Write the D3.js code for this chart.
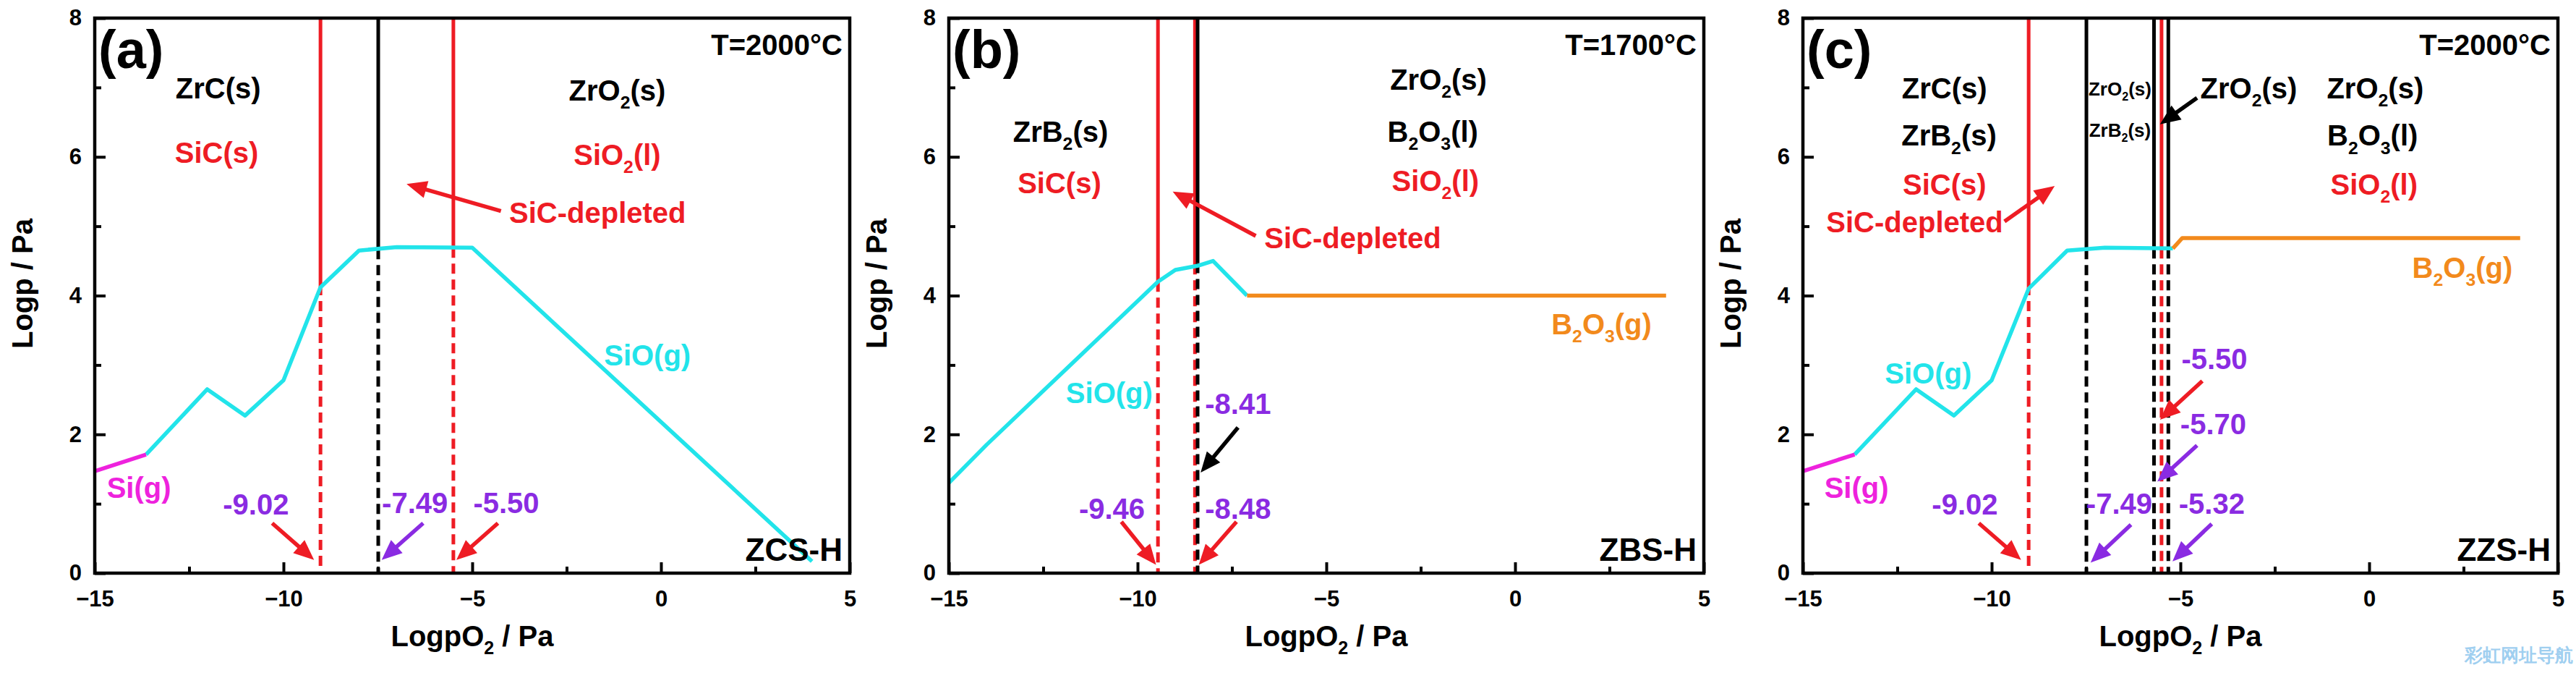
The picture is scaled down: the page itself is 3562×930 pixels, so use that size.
<!DOCTYPE html>
<html><head><meta charset="utf-8">
<script src="https://cdn.jsdelivr.net/npm/d3@7"></script>
<style>
body{margin:0;background:#fff}
svg{display:block}
text{font-family:"Liberation Sans",Arial,sans-serif;font-weight:bold}
</style>
</head><body>
<svg id="chart" width="3562" height="930"></svg>
<script>
// ---------- data ----------
const xDomain = [-15, 5];
const yDomain = [0, 8];
const xTickValues = [-15, -10, -5, 0, 5];
const xMinorTicks = [-12.5, -7.5, -2.5, 2.5];
const yTickValues = [0, 2, 4, 6, 8];
const yMinorTicks = [1, 3, 5, 7];

const panelNames = ["(a)", "(b)", "(c)"];
const panelTemps = ["T=2000°C", "T=1700°C", "T=2000°C"];
const panelSamples = ["ZCS-H", "ZBS-H", "ZZS-H"];

// Series (LogpO2, Logp)
const aSiO = [[-13.64,1.71],[-12.02,2.65],[-11.02,2.27],[-10.0,2.78],[-9.02,4.12],[-8.0,4.65],[-7.0,4.70],[-5.0,4.69],[4.0,0.17]];
const aSi  = [[-15,1.47],[-13.64,1.71]];
const bSiO = [[-15,1.30],[-14,1.85],[-9.46,4.20],[-9.0,4.37],[-8.41,4.43],[-8.0,4.50],[-7.1,4.00]];
const bB2O3 = [[-7.1,4.00],[4.0,4.00]];
const cSiO = [[-13.63,1.71],[-12.0,2.65],[-11.0,2.27],[-10.0,2.78],[-9.02,4.10],[-8.0,4.65],[-7.0,4.69],[-5.2,4.68]];
const cSi  = [[-15,1.47],[-13.63,1.71]];
const cB2O3 = [[-5.2,4.68],[-4.95,4.83],[4.0,4.83]];

// Phase boundaries: [LogpO2, Logp where the solid part ends, colour key]
const aBounds = [[-9.02,4.15,"r"],[-7.49,4.67,"k"],[-5.50,4.69,"r"]];
const bBounds = [[-9.46,4.20,"r"],[-8.48,4.45,"r"],[-8.41,4.47,"k"]];
const cBounds = [[-9.02,4.15,"r"],[-7.49,4.67,"k"],[-5.70,4.68,"k"],[-5.50,4.68,"r"],[-5.32,4.68,"k"]];

// Annotations: [text, LogpO2, Logp, colour key, size key]
const aLabels = [
  ["ZrC(s)",-11.73,6.99,"k","L"],["SiC(s)",-11.77,6.06,"r","L"],
  ["ZrO_2(s)",-1.16,6.96,"k","L"],["SiO_2(l)",-1.16,6.03,"r","L"],
  ["SiC-depleted",-1.68,5.20,"r","L"],["SiO(g)",-0.36,3.14,"c","L"],
  ["Si(g)",-13.83,1.24,"m","L"],
  ["-9.02",-10.73,0.99,"p","L"],["-7.49",-6.52,1.02,"p","L"],["-5.50",-4.10,1.02,"p","L"]
];
const bLabels = [
  ["ZrO_2(s)",-2.03,7.12,"k","L"],["B_2O_3(l)",-2.18,6.37,"k","L"],["SiO_2(l)",-2.11,5.66,"r","L"],
  ["ZrB_2(s)",-12.04,6.37,"k","L"],["SiC(s)",-12.07,5.63,"r","L"],
  ["SiC-depleted",-4.30,4.83,"r","L"],["SiO(g)",-10.75,2.60,"c","L"],
  ["B_2O_3(g)",2.29,3.59,"o","L"],
  ["-8.41",-7.34,2.44,"p","L"],["-9.46",-10.68,0.93,"p","L"],["-8.48",-7.34,0.93,"p","L"]
];
const cLabels = [
  ["ZrC(s)",-11.25,6.99,"k","L"],["ZrB_2(s)",-11.13,6.31,"k","L"],["SiC(s)",-11.25,5.61,"r","L"],
  ["SiC-depleted",-12.04,5.06,"r","L"],
  ["ZrO_2(s)",-6.60,6.98,"k","S"],["ZrB_2(s)",-6.60,6.39,"k","S"],
  ["ZrO_2(s)",-3.19,6.99,"k","L"],
  ["ZrO_2(s)",0.16,6.99,"k","L"],["B_2O_3(l)",0.09,6.31,"k","L"],["SiO_2(l)",0.13,5.61,"r","L"],
  ["B_2O_3(g)",2.47,4.41,"o","L"],["SiO(g)",-11.68,2.88,"c","L"],["Si(g)",-13.58,1.24,"m","L"],
  ["-5.50",-4.10,3.09,"p","L"],["-5.70",-4.13,2.15,"p","L"],
  ["-9.02",-10.71,0.99,"p","L"],["-7.49",-6.62,1.01,"p","L"],["-5.32",-4.17,1.01,"p","L"]
];

// Arrows: [x1, y1, x2(tip), y2(tip), colour key]
const aArrows = [[-4.24,5.22,-6.74,5.61,"r"],[-10.30,0.72,-9.19,0.19,"r"],[-6.30,0.72,-7.40,0.19,"p"],[-4.32,0.72,-5.42,0.19,"r"]];
const bArrows = [[-6.87,4.86,-9.07,5.50,"r"],[-7.34,2.10,-8.33,1.45,"k"],[-10.43,0.74,-9.51,0.12,"r"],[-7.38,0.74,-8.38,0.12,"r"]];
const cArrows = [[-9.66,5.07,-8.33,5.58,"r"],[-4.56,6.85,-5.54,6.47,"k"],[-4.42,2.77,-5.54,2.21,"r"],
  [-4.56,1.84,-5.61,1.32,"p"],[-10.34,0.72,-9.22,0.19,"r"],[-6.31,0.70,-7.38,0.15,"p"],[-4.17,0.71,-5.21,0.17,"p"]];

// ---------- styling ----------
const COL = {k:"#000000", r:"#ee1c24", p:"#8a2be2", c:"#22e4ea", m:"#ee22dd", o:"#f28a1c"};
const SIZE = {L:40, S:26};
const panelLeft = [131, 1312, 2493];
const PW = 1044, TOP = 25, BOTTOM = 792;

const svg = d3.select("#chart");

function drawPanel(i, series, bounds, labels, arrows) {
  const L = panelLeft[i];
  const x = d3.scaleLinear().domain(xDomain).range([L, L + PW]);
  const y = d3.scaleLinear().domain(yDomain).range([BOTTOM, TOP]);
  const g = svg.append("g");

  // axes (ticks inward)
  const xa = g.append("g").attr("transform", `translate(0,${BOTTOM})`)
    .call(d3.axisBottom(x).tickValues(xTickValues).tickSizeInner(-15).tickSizeOuter(0).tickPadding(24).tickFormat(d3.format("d")));
  const xm = g.append("g").attr("transform", `translate(0,${BOTTOM})`)
    .call(d3.axisBottom(x).tickValues(xMinorTicks).tickSizeInner(-9).tickSizeOuter(0).tickFormat(""));
  const ya = g.append("g").attr("transform", `translate(${L},0)`)
    .call(d3.axisLeft(y).tickValues(yTickValues).tickSizeInner(-15).tickSizeOuter(0).tickPadding(18).tickFormat(d3.format("d")));
  const ym = g.append("g").attr("transform", `translate(${L},0)`)
    .call(d3.axisLeft(y).tickValues(yMinorTicks).tickSizeInner(-9).tickSizeOuter(0).tickFormat(""));
  [xa, xm, ya, ym].forEach(a => {
    a.select(".domain").remove();
    a.selectAll("line").attr("stroke", "#000").attr("stroke-width", 4);
    a.selectAll("text").attr("font-size", 31).attr("font-weight", "bold")
      .attr("font-family", '"Liberation Sans",Arial,sans-serif').attr("fill", "#000");
  });

  // clip for data
  const clipId = "clip" + i;
  svg.append("clipPath").attr("id", clipId).append("rect")
    .attr("x", L).attr("y", TOP).attr("width", PW).attr("height", BOTTOM - TOP);
  const dg = g.append("g").attr("clip-path", `url(#${clipId})`);

  // phase boundary lines
  bounds.forEach(([bx, by, c]) => {
    dg.append("line").attr("x1", x(bx)).attr("x2", x(bx)).attr("y1", y(8)).attr("y2", y(by))
      .attr("stroke", COL[c]).attr("stroke-width", 5);
    dg.append("line").attr("x1", x(bx)).attr("x2", x(bx)).attr("y1", y(by)).attr("y2", y(0))
      .attr("stroke", COL[c]).attr("stroke-width", 5).attr("stroke-dasharray", "14,8");
  });

  // series lines
  const line = d3.line().x(d => x(d[0])).y(d => y(d[1]));
  series.forEach(([data, c]) => {
    dg.append("path").datum(data).attr("d", line).attr("fill", "none")
      .attr("stroke", COL[c]).attr("stroke-width", 5.5).attr("stroke-linejoin", "round");
  });

  // frame
  g.append("rect").attr("x", L).attr("y", TOP).attr("width", PW).attr("height", BOTTOM - TOP)
    .attr("fill", "none").attr("stroke", "#000").attr("stroke-width", 4.5);

  // arrows
  arrows.forEach(([x1, y1, x2, y2, c]) => {
    const X1 = x(x1), Y1 = y(y1), X2 = x(x2), Y2 = y(y2);
    const dx = X2 - X1, dy = Y2 - Y1, len = Math.hypot(dx, dy);
    const ux = dx / len, uy = dy / len, hl = 28, hw = 12;
    const bx = X2 - ux * hl, by = Y2 - uy * hl;
    g.append("line").attr("x1", X1).attr("y1", Y1).attr("x2", bx + ux * 2).attr("y2", by + uy * 2)
      .attr("stroke", COL[c]).attr("stroke-width", 5.5);
    g.append("path").attr("d", `M${X2},${Y2}L${bx - uy * hw},${by + ux * hw}L${bx + uy * hw},${by - ux * hw}Z`)
      .attr("fill", COL[c]);
  });

  // labels with subscripts
  labels.forEach(([t, lx, ly, c, s]) => {
    const fs = SIZE[s];
    const tx = g.append("text").attr("x", x(lx)).attr("y", y(ly)).attr("dy", "0.36em")
      .attr("text-anchor", "middle").attr("font-size", fs).attr("fill", COL[c]);
    const parts = t.split(/(_\d)/).filter(p => p.length);
    let shifted = false;
    parts.forEach(p => {
      if (p[0] === "_") {
        tx.append("tspan").attr("font-size", fs * 0.62).attr("dy", fs * 0.28).text(p.slice(1));
        shifted = true;
      } else {
        const ts = tx.append("tspan").text(p);
        if (shifted) { ts.attr("dy", -fs * 0.28); shifted = false; }
      }
    });
  });

  // panel letter, temperature, sample
  g.append("text").attr("x", L + 5).attr("y", 94).attr("font-size", 74).text(panelNames[i]);
  g.append("text").attr("x", L + PW - 10).attr("y", 76).attr("text-anchor", "end").attr("font-size", 40).text(panelTemps[i]);
  g.append("text").attr("x", L + PW - 10).attr("y", 775).attr("text-anchor", "end").attr("font-size", 44).text(panelSamples[i]);

  // axis titles
  const xt = g.append("text").attr("x", L + PW / 2).attr("y", 893).attr("text-anchor", "middle").attr("font-size", 40);
  xt.append("tspan").text("LogpO");
  xt.append("tspan").attr("font-size", 25).attr("dy", 11).text("2");
  xt.append("tspan").attr("dy", -11).text(" / Pa");
  g.append("text").attr("transform", `translate(${L - 86},392) rotate(-90)`).attr("text-anchor", "middle")
    .attr("font-size", 40).text("Logp / Pa");
}

drawPanel(0, [[aSiO, "c"], [aSi, "m"]], aBounds, aLabels, aArrows);
drawPanel(1, [[bSiO, "c"], [bB2O3, "o"]], bBounds, bLabels, bArrows);
drawPanel(2, [[cSiO, "c"], [cSi, "m"], [cB2O3, "o"]], cBounds, cLabels, cArrows);

// watermark
svg.append("text").attr("x", 3558).attr("y", 914).attr("text-anchor", "end")
  .attr("font-family", '"Noto Sans CJK SC",sans-serif').attr("font-weight", "bold").attr("font-size", 25).attr("fill", "#9fcff0")
  .text("彩虹网址导航");
</script>
</body></html>
